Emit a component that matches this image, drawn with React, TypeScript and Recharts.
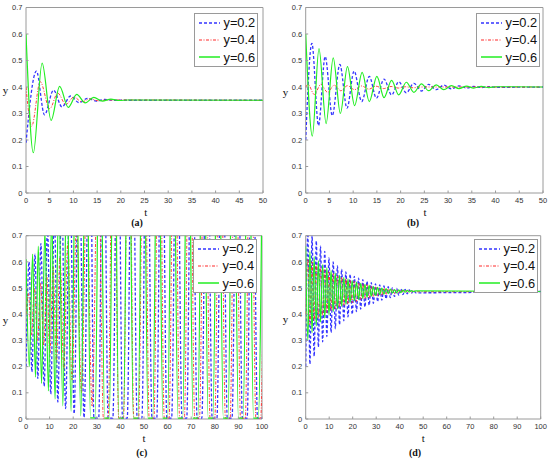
import React from "react";
import { LineChart, Line, XAxis, YAxis, ReferenceArea, Legend } from "recharts";

type Pt = { t: number; y: number };
type Row = [number, number];

const NAMES = ["y=0.2", "y=0.4", "y=0.6"];
const Y_TICKS = [0, 0.1, 0.2, 0.3, 0.4, 0.5, 0.6, 0.7];
const T_TICKS_50 = [0, 5, 10, 15, 20, 25, 30, 35, 40, 45, 50];
const T_TICKS_100 = [0, 10, 20, 30, 40, 50, 60, 70, 80, 90, 100];

// (a) peaks / troughs
const A_BLUE: Row[] = [
  [0, 0.19], [2.2, 0.46], [3.9, 0.295], [5.8, 0.388], [7.6, 0.325], [9.4, 0.366],
  [11.2, 0.341], [13.0, 0.357], [14.8, 0.347], [16.6, 0.353], [18.5, 0.35], [50, 0.35],
];
const A_RED: Row[] = [
  [0, 0.4], [1.2, 0.252], [3.0, 0.42], [5.0, 0.318], [6.7, 0.377], [8.4, 0.334],
  [10.1, 0.362], [11.8, 0.344], [13.5, 0.355], [15.3, 0.348], [17, 0.351], [50, 0.35],
];
const A_GREEN: Row[] = [
  [0, 0.6], [1.55, 0.152], [3.4, 0.49], [5.3, 0.274], [7.1, 0.402], [8.9, 0.323],
  [10.7, 0.372], [12.5, 0.34], [14.3, 0.361], [16.1, 0.347], [17.9, 0.354],
  [19.7, 0.349], [21.5, 0.351], [50, 0.35],
];

// (b)
const B_BLUE: Row[] = [
  [0, 0.2], [1.3, 0.565], [2.7, 0.255], [4.1, 0.515], [5.6, 0.292], [7.2, 0.485],
  [8.7, 0.32], [10.2, 0.46], [11.8, 0.345], [13.4, 0.44], [14.9, 0.358], [16.5, 0.43],
  [18.1, 0.37], [19.6, 0.42], [21.2, 0.378], [22.8, 0.414], [24.4, 0.385], [25.9, 0.41],
  [27.5, 0.39], [29.1, 0.407], [30.7, 0.393], [32.3, 0.404], [33.9, 0.396], [35.4, 0.402],
  [37, 0.398], [38.6, 0.401], [40.2, 0.399], [50, 0.4],
];
const B_RED: Row[] = [
  [0, 0.4], [0.5, 0.41], [1.8, 0.372], [3.2, 0.41], [4.6, 0.38], [6.0, 0.407],
  [7.4, 0.386], [8.8, 0.405], [10.3, 0.39], [11.8, 0.404], [13.3, 0.392], [14.8, 0.403],
  [16.4, 0.394], [18, 0.402], [19.5, 0.396], [21, 0.401], [22.6, 0.397], [24.2, 0.4],
  [50, 0.4],
];
const B_GREEN: Row[] = [
  [0, 0.6], [1.4, 0.215], [2.8, 0.545], [4.3, 0.262], [5.8, 0.51], [7.3, 0.3],
  [8.8, 0.477], [10.3, 0.33], [11.9, 0.455], [13.4, 0.345], [15.0, 0.44], [16.5, 0.36],
  [18.1, 0.425], [19.6, 0.37], [21.2, 0.418], [22.8, 0.38], [24.4, 0.412], [25.9, 0.386],
  [27.5, 0.408], [29.1, 0.39], [30.7, 0.405], [32.3, 0.394], [33.9, 0.403], [35.4, 0.396],
  [37, 0.402], [38.6, 0.398], [40.2, 0.401], [50, 0.4],
];

// (c) growing oscillation, peaks run past the 0.7 top of the axes
const C_BLUE: Row[] = [
  [0, 0.2], [1.3, 0.6], [2.5, 0.18], [3.8, 0.63], [5.0, 0.155], [6.3, 0.67], [7.7, 0.125],
  [9.1, 0.74], [10.5, 0.095], [12.0, 0.8], [13.5, 0.065], [15.1, 0.88], [16.8, 0.04],
  [18.6, 1.0], [20.4, 0.02], [22.4, 1.15], [24.6, 0.006], [27.0, 1.35],
  [28.8, 0.003], [30.8, 0.003], [32.8, 1.5],
  [34.8, 0.003], [36.8, 0.003], [38.9, 1.5],
  [40.9, 0.003], [42.9, 0.003], [45.0, 1.5],
  [47.1, 0.003], [49.1, 0.003], [51.2, 1.5],
  [53.4, 0.003], [55.4, 0.003], [57.5, 1.5],
  [59.7, 0.003], [61.7, 0.003], [63.9, 1.5],
  [66.1, 0.003], [68.1, 0.003], [70.3, 1.5],
  [72.5, 0.003], [74.5, 0.003], [76.7, 1.5],
  [78.9, 0.003], [80.9, 0.003], [83.1, 1.5],
  [85.3, 0.003], [87.3, 0.003], [89.5, 1.5],
  [91.7, 0.003], [93.7, 0.003], [95.9, 1.5],
  [98.1, 0.003], [100.1, 0.003],
];
const C_RED: Row[] = [
  [0, 0.4], [1.0, 0.48], [2.3, 0.32], [3.6, 0.5], [4.9, 0.3], [6.2, 0.52], [7.5, 0.28],
  [8.8, 0.55], [10.1, 0.25], [11.5, 0.58], [12.9, 0.22], [14.4, 0.62], [16.0, 0.19],
  [17.7, 0.67], [19.5, 0.15], [21.4, 0.75], [23.5, 0.1], [25.7, 0.88], [28.0, 0.05],
  [30.6, 1.1],
  [32.8, 0.003], [34.8, 0.003], [37.0, 1.5],
  [39.3, 0.003], [41.3, 0.003], [43.5, 1.5],
  [45.7, 0.003], [47.7, 0.003], [50.0, 1.5],
  [52.2, 0.003], [54.2, 0.003], [56.4, 1.5],
  [58.6, 0.003], [60.6, 0.003], [62.9, 1.5],
  [65.1, 0.003], [67.1, 0.003], [69.3, 1.5],
  [71.5, 0.003], [73.5, 0.003], [75.8, 1.5],
  [78.0, 0.003], [80.0, 0.003], [82.2, 1.5],
  [84.5, 0.003], [86.5, 0.003], [88.7, 1.5],
  [90.9, 0.003], [92.9, 0.003], [95.2, 1.5],
  [97.4, 0.003], [99.4, 0.003], [101.6, 1.5],
];
const C_GREEN: Row[] = [
  [0, 0.61], [1.4, 0.2], [2.8, 0.63], [4.0, 0.16], [5.2, 0.66], [6.6, 0.136], [8.0, 0.72],
  [9.5, 0.107], [10.9, 0.78], [12.3, 0.076], [13.9, 0.86], [15.6, 0.05], [17.3, 0.96],
  [19.1, 0.03], [21.2, 1.1], [23.2, 0.012], [25.6, 1.3],
  [27.3, 0.004], [29.3, 0.004], [31.3, 1.5],
  [33.3, 0.003], [35.3, 0.003], [37.3, 1.5],
  [39.3, 0.003], [41.3, 0.003], [43.4, 1.5],
  [45.5, 0.003], [47.5, 0.003], [49.6, 1.5],
  [51.7, 0.003], [53.7, 0.003], [55.9, 1.5],
  [58.0, 0.003], [60.0, 0.003], [62.2, 1.5],
  [64.4, 0.003], [66.4, 0.003], [68.6, 1.5],
  [70.8, 0.003], [72.8, 0.003], [75.0, 1.5],
  [77.2, 0.003], [79.2, 0.003], [81.4, 1.5],
  [83.6, 0.003], [85.6, 0.003], [87.8, 1.5],
  [90.0, 0.003], [92.0, 0.003], [94.2, 1.5],
  [96.4, 0.003], [98.4, 0.003], [100.6, 1.5],
];

// (d) fast damped oscillation, sampled at its turning points
const D_T = [
  0, 0.9, 1.8, 2.7, 3.6, 4.5, 5.4, 6.3, 7.2, 8.1,
  9, 9.9, 10.8, 11.7, 12.6, 13.5, 14.4, 15.3, 16.2, 17.1,
  18, 18.9, 19.8, 20.7, 21.6, 22.5, 23.4, 24.3, 25.2, 26.1,
  27, 27.9, 28.8, 29.7, 30.6, 31.5, 32.4, 33.3, 34.2, 35.1,
  36, 36.9, 37.8, 38.7, 39.6, 40.5, 41.4, 42.3, 43.2, 44.1,
  45, 45.9, 46.8, 100,
];
const D_BLUE = [
  0.2, 0.71, 0.21, 0.7, 0.24, 0.68, 0.275, 0.66, 0.295, 0.64,
  0.315, 0.615, 0.33, 0.6, 0.345, 0.585, 0.36, 0.572, 0.375, 0.562,
  0.39, 0.553, 0.4, 0.545, 0.41, 0.538, 0.42, 0.532, 0.428, 0.526,
  0.435, 0.521, 0.442, 0.516, 0.448, 0.512, 0.454, 0.508, 0.459, 0.505,
  0.464, 0.502, 0.468, 0.499, 0.472, 0.497, 0.475, 0.495, 0.478, 0.493,
  0.48, 0.492, 0.482, 0.487,
];
const D_RED = [
  0.4, 0.61, 0.36, 0.6, 0.375, 0.59, 0.385, 0.58, 0.395, 0.57,
  0.405, 0.562, 0.413, 0.555, 0.42, 0.548, 0.427, 0.542, 0.433, 0.536,
  0.439, 0.531, 0.444, 0.526, 0.449, 0.521, 0.454, 0.517, 0.458, 0.513,
  0.462, 0.509, 0.466, 0.505, 0.469, 0.502, 0.472, 0.5, 0.475, 0.498,
  0.477, 0.496, 0.479, 0.494, 0.481, 0.493, 0.483, 0.492, 0.484, 0.491,
  0.485, 0.49, 0.486, 0.487,
];
const D_GREEN = [
  0.66, 0.3, 0.64, 0.33, 0.62, 0.355, 0.605, 0.37, 0.59, 0.385,
  0.578, 0.398, 0.567, 0.41, 0.557, 0.42, 0.549, 0.43, 0.541, 0.438,
  0.535, 0.445, 0.529, 0.451, 0.523, 0.456, 0.518, 0.461, 0.514, 0.465,
  0.51, 0.469, 0.506, 0.472, 0.503, 0.475, 0.5, 0.477, 0.498, 0.479,
  0.496, 0.481, 0.494, 0.482, 0.493, 0.483, 0.492, 0.484, 0.491, 0.485,
  0.49, 0.486, 0.489, 0.487,
];

const toPts = (rows: Row[]): Pt[] => rows.map(([t, y]) => ({ t, y }));
const zip = (ts: number[], ys: number[]): Pt[] => ts.map((t, i) => ({ t, y: ys[i] }));

const STYLES = [
  { color: "#3535ff", dash: "3 2", width: 1.3 },
  { color: "#ff2a2a", dash: "3 1.5 1 1.5", width: 0.9 },
  { color: "#22ee22", dash: undefined, width: 1.2 },
];

const FRAME = "#9a9a9a";
const SANS = "'Liberation Sans', Arial, sans-serif";
const SERIF = "'Liberation Serif', 'Times New Roman', serif";

function LegendBox() {
  return (
    <div
      style={{
        width: 64,
        height: 54,
        boxSizing: "border-box",
        border: `1px solid ${FRAME}`,
        background: "#fff",
        display: "flex",
        flexDirection: "column",
        justifyContent: "space-around",
      }}
    >
      {NAMES.map((name, i) => (
        <div key={name} style={{ display: "flex", alignItems: "center", height: 15 }}>
          <svg width={24} height={6} style={{ marginLeft: 4, flex: "none" }}>
            <line
              x1={0}
              y1={3}
              x2={21}
              y2={3}
              stroke={STYLES[i].color}
              strokeWidth={STYLES[i].width + 0.3}
              strokeDasharray={STYLES[i].dash}
            />
          </svg>
          <span style={{ fontFamily: SANS, fontSize: 12.8, lineHeight: "13px", color: "#111", marginLeft: 0.5 }}>
            {name}
          </span>
        </div>
      ))}
    </div>
  );
}

type PanelProps = {
  left: number;
  top: number;
  height: number;
  margin: { top: number; right: number; bottom: number; left: number };
  xMax: number;
  xTicks: number[];
  series: Pt[][];
  legend: { left: number; top: number };
};

function Panel({ left, top, height, margin, xMax, xTicks, series, legend }: PanelProps) {
  const tick = { fontSize: 7.5, fill: "#333", fontFamily: SANS };
  return (
    <div style={{ position: "absolute", left, top }}>
      <LineChart width={275} height={height} margin={margin}>
        <XAxis
          dataKey="t"
          type="number"
          domain={[0, xMax]}
          ticks={xTicks}
          allowDataOverflow
          height={20}
          axisLine={false}
          tickLine={{ stroke: FRAME }}
          tickSize={-2.5}
          tickMargin={7}
          tick={tick}
          interval={0}
        />
        <YAxis
          dataKey="y"
          type="number"
          domain={[0, 0.7]}
          ticks={Y_TICKS}
          allowDataOverflow
          width={26}
          axisLine={false}
          tickLine={{ stroke: FRAME }}
          tickSize={-2.5}
          tickMargin={6}
          tick={tick}
          interval={0}
        />
        {series.map((data, i) => (
          <Line
            key={i}
            data={data}
            dataKey="y"
            name={NAMES[i]}
            type="monotone"
            stroke={STYLES[i].color}
            strokeWidth={STYLES[i].width}
            strokeDasharray={STYLES[i].dash}
            dot={false}
            activeDot={false}
            isAnimationActive={false}
          />
        ))}
        <ReferenceArea x1={0} x2={xMax} y1={0} y2={0.7} fill="none" stroke={FRAME} strokeWidth={1} />
        <Legend
          layout="vertical"
          align="center"
          verticalAlign="middle"
          content={() => <LegendBox />}
          wrapperStyle={{ left: legend.left, top: legend.top, width: 64, height: 54 }}
        />
      </LineChart>
    </div>
  );
}

function Label({ x, y, text, bold, size }: { x: number; y: number; text: string; bold?: boolean; size: number }) {
  return (
    <div
      style={{
        position: "absolute",
        left: x,
        top: y,
        transform: "translate(-50%, -50%)",
        fontFamily: SERIF,
        fontSize: size,
        fontWeight: bold ? "bold" : "normal",
        color: "#111",
        whiteSpace: "nowrap",
        lineHeight: 1,
      }}
    >
      {text}
    </div>
  );
}

export default function App() {
  return (
    <div style={{ position: "absolute", left: 0, top: 0, width: 550, height: 462, background: "#fff", overflow: "hidden" }}>
      <Panel
        left={0}
        top={0}
        height={225}
        margin={{ top: 7.5, right: 12, bottom: 12, left: 0 }}
        xMax={50}
        xTicks={T_TICKS_50}
        series={[toPts(A_BLUE), toPts(A_RED), toPts(A_GREEN)]}
        legend={{ left: 194, top: 13 }}
      />
      <Panel
        left={275}
        top={0}
        height={225}
        margin={{ top: 7.5, right: 7, bottom: 12, left: 4.7 }}
        xMax={50}
        xTicks={T_TICKS_50}
        series={[toPts(B_BLUE), toPts(B_RED), toPts(B_GREEN)]}
        legend={{ left: 201, top: 13 }}
      />
      <Panel
        left={0}
        top={225}
        height={237}
        margin={{ top: 10.7, right: 13, bottom: 23, left: 0 }}
        xMax={100}
        xTicks={T_TICKS_100}
        series={[toPts(C_BLUE), toPts(C_RED), toPts(C_GREEN)]}
        legend={{ left: 193, top: 14 }}
      />
      <Panel
        left={275}
        top={225}
        height={237}
        margin={{ top: 10.7, right: 9.3, bottom: 23, left: 4.7 }}
        xMax={100}
        xTicks={T_TICKS_100}
        series={[zip(D_T, D_BLUE), zip(D_T, D_RED), zip(D_T, D_GREEN)]}
        legend={{ left: 199, top: 14 }}
      />
      <Label x={145.7} y={212} text="t" size={11} />
      <Label x={425} y={212} text="t" size={11} />
      <Label x={144} y={437.5} text="t" size={11} />
      <Label x={423.3} y={438.3} text="t" size={11} />
      <Label x={5.5} y={90} text="y" size={11} />
      <Label x={285.5} y={92} text="y" size={11} />
      <Label x={5.5} y={320} text="y" size={11} />
      <Label x={285.5} y={319} text="y" size={11} />
      <Label x={137} y={222.5} text="(a)" bold size={10} />
      <Label x={413} y={222.5} text="(b)" bold size={10} />
      <Label x={141.7} y={453} text="(c)" bold size={10} />
      <Label x={415} y={453} text="(d)" bold size={10} />
    </div>
  );
}
